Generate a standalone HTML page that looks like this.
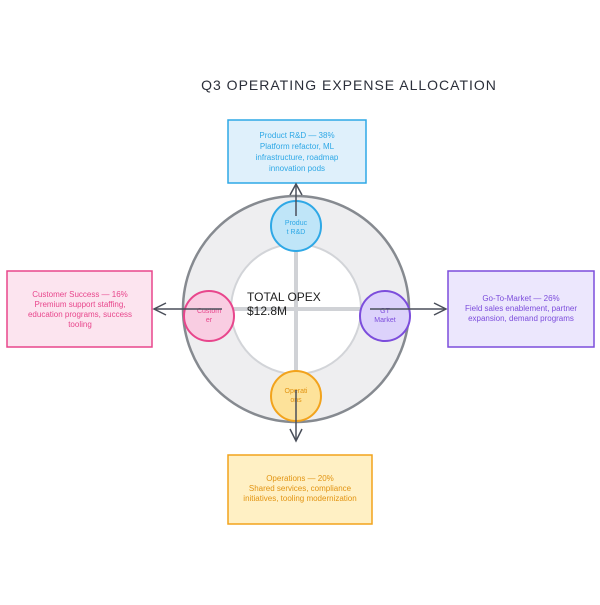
<!DOCTYPE html>
<html><head><style>
body{margin:0;background:#fff;}
svg text{font-family:"Liberation Sans",sans-serif;}
</style></head><body>
<svg width="600" height="600" viewBox="0 0 600 600" xmlns="http://www.w3.org/2000/svg">
<rect width="600" height="600" fill="#fff"/>
<text x="349" y="90" text-anchor="middle" font-size="14" fill="#2b2f3a" letter-spacing="1">Q3 OPERATING EXPENSE ALLOCATION</text>
<circle cx="296" cy="309" r="89" fill="none" stroke="#eeeef0" stroke-width="48"/>
<circle cx="296" cy="309" r="113" fill="none" stroke="#868a90" stroke-width="2.5"/>
<circle cx="296" cy="309" r="65" fill="none" stroke="#d2d4d8" stroke-width="2"/>
<line x1="296" y1="244" x2="296" y2="374" stroke="#d0d2d6" stroke-width="4"/>
<line x1="231" y1="309" x2="361" y2="309" stroke="#d0d2d6" stroke-width="4"/>
<text x="247" y="301" font-size="12" fill="#1e1e1e">TOTAL OPEX</text>
<text x="247" y="315" font-size="12" fill="#1e1e1e">$12.8M</text>
<!-- boxes -->
<rect x="228" y="120" width="138" height="63" fill="#dff0fb" stroke="#2ea8e6" stroke-width="1.5"/>
<g font-size="8" fill="#2ea8e6" text-anchor="middle"><text x="297" y="138">Product R&amp;D — 38%</text><text x="297" y="149">Platform refactor, ML</text><text x="297" y="160">infrastructure, roadmap</text><text x="297" y="171">innovation pods</text></g>
<rect x="7" y="271" width="145" height="76" fill="#fce4ef" stroke="#e8468c" stroke-width="1.5"/>
<g font-size="8" fill="#e8468c" text-anchor="middle"><text x="80" y="297">Customer Success — 16%</text><text x="80" y="307">Premium support staffing,</text><text x="80" y="317">education programs, success</text><text x="80" y="327">tooling</text></g>
<rect x="448" y="271" width="146" height="76" fill="#ece7fd" stroke="#7c4ddc" stroke-width="1.5"/>
<g font-size="8" fill="#7c4ddc" text-anchor="middle"><text x="521" y="301">Go-To-Market — 26%</text><text x="521" y="311">Field sales enablement, partner</text><text x="521" y="321">expansion, demand programs</text></g>
<rect x="228" y="455" width="144" height="69" fill="#fff0c4" stroke="#f2a31c" stroke-width="1.5"/>
<g font-size="8" fill="#e29412" text-anchor="middle"><text x="300" y="481">Operations — 20%</text><text x="300" y="491">Shared services, compliance</text><text x="300" y="501">initiatives, tooling modernization</text></g>
<!-- small circles -->
<circle cx="296" cy="226" r="25" fill="#bfe5f8" stroke="#2ea8e6" stroke-width="2"/>
<g font-size="7" fill="#2ea8e6" text-anchor="middle"><text x="296" y="225">Produc</text><text x="296" y="234">t R&amp;D</text></g>
<circle cx="209" cy="316" r="25" fill="#f9cde2" stroke="#e8468c" stroke-width="2"/>
<g font-size="7" fill="#e8468c" text-anchor="middle"><text x="209" y="313">Custom</text><text x="209" y="322">er</text></g>
<circle cx="385" cy="316" r="25" fill="#dcd2fb" stroke="#7c4ddc" stroke-width="2"/>
<g font-size="7" fill="#7c4ddc" text-anchor="middle"><text x="385" y="313">GT</text><text x="385" y="322">Market</text></g>
<circle cx="296" cy="396" r="25" fill="#fde29a" stroke="#f2a31c" stroke-width="2"/>
<g font-size="7" fill="#e29412" text-anchor="middle"><text x="296" y="393">Operati</text><text x="296" y="402">ons</text></g>
<!-- arrows -->
<g stroke="#4a4f5a" stroke-width="1.5" fill="none">
<line x1="296" y1="216" x2="296" y2="185"/><polyline points="290,195 296,184 302,195"/>
<line x1="222" y1="309" x2="154" y2="309"/><polyline points="166,303 154,309 166,315"/>
<line x1="370" y1="309" x2="446" y2="309"/><polyline points="434,303 446,309 434,315"/>
<line x1="296" y1="390" x2="296" y2="440"/><polyline points="290,429 296,441 302,429"/>
</g>
</svg>
</body></html>
